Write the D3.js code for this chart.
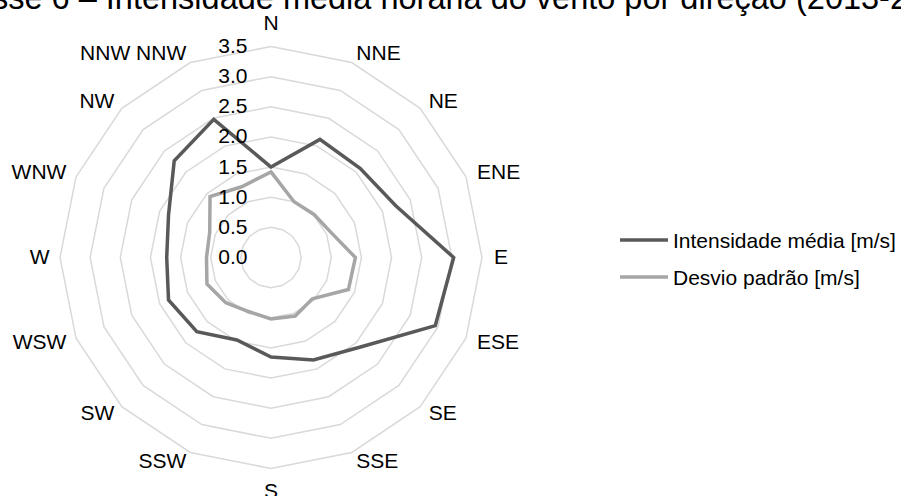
<!DOCTYPE html>
<html>
<head>
<meta charset="utf-8">
<script src="https://cdn.jsdelivr.net/npm/d3@7"></script>
<style>
  html, body { margin: 0; padding: 0; background: #ffffff; }
  svg { display: block; font-family: "Liberation Sans", Arial, sans-serif; }
</style>
</head>
<body>
<svg id="chart" width="901" height="496"></svg>
<script>
// ---- data ----
const titleText = "sse 6 – Intensidade média horária do vento por direção (2013-2";
const categories = ["N", "NNE", "NE", "ENE", "E", "ESE", "SE", "SSE", "S", "SSW", "SW", "WSW", "W", "WNW", "NW", "NNW NNW"];
const mediaValues = [1.50, 2.12, 2.09, 2.24, 3.03, 2.95, 2.10, 1.84, 1.65, 1.48, 1.74, 1.84, 1.73, 1.84, 2.27, 2.48];
const desvioValues = [1.42, 1.00, 1.01, 1.08, 1.40, 1.39, 0.97, 1.05, 1.02, 0.97, 1.06, 1.15, 1.07, 1.10, 1.43, 1.27];
const tickValues = [0.0, 0.5, 1.0, 1.5, 2.0, 2.5, 3.0, 3.5];
const seriesNames = ["Intensidade média [m/s]", "Desvio padrão [m/s]"];
const seriesColors = ["#595959", "#a6a6a6"];

// ---- layout ----
const svg = d3.select("#chart");
const cx = 271, cy = 257.5, R = 211;
const fontSize = 21;
const capH = fontSize * 0.716;

const r = d3.scaleLinear().domain([0, 3.5]).range([0, R]);
const angle = d3.scaleLinear().domain([0, categories.length]).range([0, 2 * Math.PI]);

// title (cut off at top, as in the reference)
svg.append("text")
  .attr("x", -8).attr("y", 9)
  .attr("font-size", 32.5).attr("fill", "#000")
  .text(titleText);

const g = svg.append("g").attr("transform", `translate(${cx},${cy})`);

// grid rings
const ringLine = d3.lineRadial()
  .angle((d, i) => angle(i))
  .radius(d => r(d))
  .curve(d3.curveLinearClosed);

tickValues.filter(t => t > 0).forEach(t => {
  g.append("path")
    .attr("d", ringLine(categories.map(() => t)))
    .attr("fill", "none")
    .attr("stroke", "#d9d9d9")
    .attr("stroke-width", 1.5);
});

// series
const seriesLine = d3.lineRadial()
  .angle((d, i) => angle(i))
  .radius(d => r(d))
  .curve(d3.curveLinearClosed);

[mediaValues, desvioValues].forEach((vals, si) => {
  g.append("path")
    .attr("d", seriesLine(vals))
    .attr("fill", "none")
    .attr("stroke", seriesColors[si])
    .attr("stroke-width", 3.5)
    .attr("stroke-linejoin", "miter");
});

// tick labels
g.selectAll("text.tick")
  .data(tickValues)
  .join("text")
  .attr("class", "tick")
  .attr("x", -23.5)
  .attr("y", d => -r(d) + capH / 2 - 1)
  .attr("text-anchor", "end")
  .attr("font-size", fontSize)
  .attr("fill", "#000")
  .text(d => d.toFixed(1));

// category labels
categories.forEach((c, i) => {
  const a = angle(i);
  const s = Math.sin(a), co = Math.cos(a);
  const vx = R * s, vy = -R * co;
  let anchor = "middle", x = vx, yc;
  if (Math.abs(s) < 0.01) {
    yc = vy - 23 * co - 1;
  } else {
    anchor = s > 0 ? "start" : "end";
    x = vx + (s > 0 ? 12 : 10.5) * s;
    yc = vy - 10 * co - 1;
  }
  g.append("text")
    .attr("x", x)
    .attr("y", yc + capH / 2)
    .attr("text-anchor", anchor)
    .attr("font-size", fontSize)
    .attr("fill", "#000")
    .text(c);
});

// legend
const legend = svg.append("g");
const legendY = [240, 277];
seriesNames.forEach((name, i) => {
  legend.append("line")
    .attr("x1", 620).attr("x2", 668)
    .attr("y1", legendY[i]).attr("y2", legendY[i])
    .attr("stroke", seriesColors[i])
    .attr("stroke-width", 3.5);
  legend.append("text")
    .attr("x", 673)
    .attr("y", legendY[i] + capH / 2)
    .attr("font-size", fontSize)
    .attr("fill", "#000")
    .text(name);
});
</script>
</body>
</html>
